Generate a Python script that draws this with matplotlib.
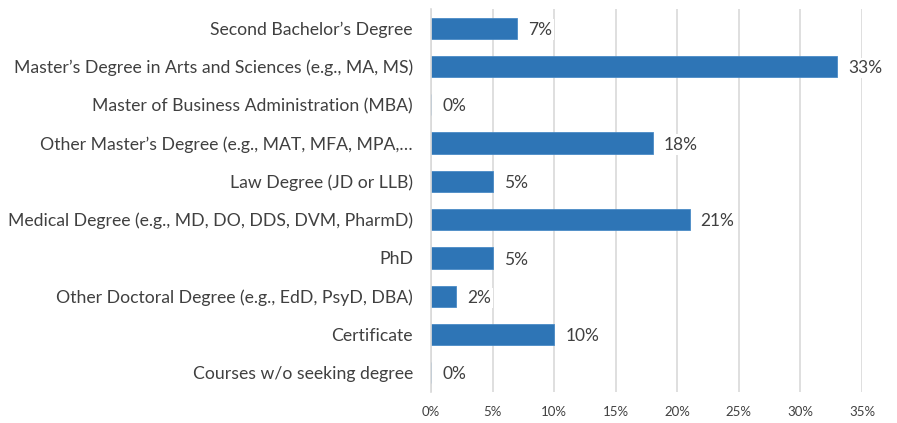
import matplotlib.pyplot as plt
from matplotlib.ticker import FuncFormatter

# Degree categories (top to bottom) and share of respondents (%)
categories = [
    "Second Bachelor\u2019s Degree",
    "Master\u2019s Degree in Arts and Sciences (e.g., MA, MS)",
    "Master of Business Administration (MBA)",
    "Other Master\u2019s Degree (e.g., MAT, MFA, MPA,\u2026",
    "Law Degree (JD or LLB)",
    "Medical Degree (e.g., MD, DO, DDS, DVM, PharmD)",
    "PhD",
    "Other Doctoral Degree (e.g., EdD, PsyD, DBA)",
    "Certificate",
    "Courses w/o seeking degree",
]
values = [7, 33, 0, 18, 5, 21, 5, 2, 10, 0]
x_ticks = [0, 5, 10, 15, 20, 25, 30, 35]

plt.rcParams['font.family'] = ['Lato', 'DejaVu Sans']
text_color = '#404040'

fig = plt.figure(figsize=(8.97, 4.23), dpi=100)
ax = fig.add_axes([0.4805, 0.073, 0.4805, 0.906])

y = list(range(len(categories)))
ax.barh(y, values, height=0.55, color='#2E75B6', edgecolor='#4A8BC6', linewidth=0.6, zorder=2)

# value labels with white background (covers gridlines like the original)
for yi, v in zip(y, values):
    ax.text(v + 0.9, yi + 0.04, f"{v}%", va='center', ha='left', fontsize=12.5,
            color=text_color, zorder=3,
            bbox=dict(facecolor='white', edgecolor='none', pad=1.5))

ax.set_yticks(y)
ax.set_yticklabels(categories, fontsize=12.7, color=text_color)
ax.set_ylim(len(categories) - 0.5, -0.5)

ax.set_xlim(0, 35)
ax.set_xticks(x_ticks)
ax.xaxis.set_major_formatter(FuncFormatter(lambda v, p: f"{int(v)}%"))
ax.tick_params(axis='x', labelsize=9.5, colors=text_color, length=0, pad=10)
ax.tick_params(axis='y', length=0, pad=13)

ax.grid(axis='x', color='#D9D9D9', linewidth=1.2, zorder=0)
ax.set_axisbelow(True)
for s in ['top', 'right', 'bottom']:
    ax.spines[s].set_visible(False)
ax.spines['left'].set_color('#D9D9D9')
ax.spines['left'].set_linewidth(1.2)

fig.savefig('out.png', dpi=100)
